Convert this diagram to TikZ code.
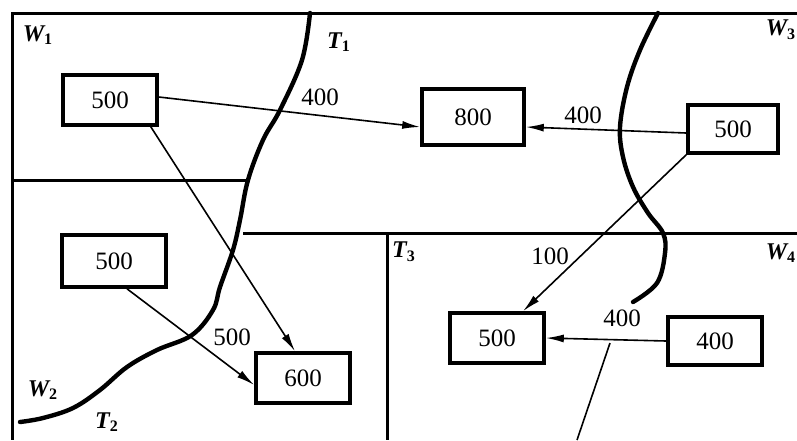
\documentclass[tikz,border=0pt]{standalone}
\usepackage{fontspec}
\setmainfont{Liberation Serif}
\usetikzlibrary{arrows.meta,positioning,calc}

\tikzset{
  kotak/.style={draw, line width=1.8pt, minimum width=47pt, minimum height=25pt, inner sep=0pt, font=\fontsize{12.5}{14}\selectfont},
  aliran/.style={line width=0.8pt, -{Latex[length=9pt,width=4pt]}},
  batas/.style={line width=1.5pt},
  kurva/.style={line width=2.2pt, line cap=round},
  angka/.style={font=\fontsize{12.5}{14}\selectfont},
  wil/.style={font=\fontsize{12}{14}\selectfont\bfseries\itshape}
}
\newcommand{\sbs}[1]{\textsubscript{\upshape #1}}

\begin{document}
\begin{tikzpicture}[x=0.5pt,y=-0.5pt]
    \useasboundingbox (0,0) rectangle (797,440);

    % Batas wilayah
    \draw[batas] (797,13) -- (12,13) -- (12,440);
    \draw[batas] (12,180) -- (248,180);
    \draw[batas] (243,233) -- (797,233);
    \draw[batas] (387,233) -- (387,440);

    % Kurva T1 / T2
    \draw[kurva] plot[smooth, tension=0.6] coordinates {(310,13) (302,60) (280,110) (263,140) (248,180) (240,220) (233,250) (220,287) (213,310) (192,335) (157,350) (127,367) (100,390) (73,408) (43,418) (20,422)};
    % Kurva T3
    \draw[kurva] plot[smooth, tension=0.6] coordinates {(658,13) (640,50) (627,87) (620,127) (623,157) (633,187) (648,213) (663,233) (665,253) (657,283) (633,302)};

    % Titik
    \node[kotak] (a) at (110,100) {500};
    \node[kotak, minimum width=51pt, minimum height=28pt] (b) at (473,117) {800};
    \node[kotak, minimum width=45pt, minimum height=24pt] (c) at (733,129) {500};
    \node[kotak, minimum width=52pt, minimum height=26pt] (d) at (114,261) {500};
    \node[kotak] (e) at (303,378) {600};
    \node[kotak] (f) at (497,338) {500};
    \node[kotak, minimum height=24pt] (g) at (715,341) {400};

    % Aliran
    \draw[aliran] ([yshift=1.5pt]a.east) -- ([yshift=-5pt]b.west);
    \draw[aliran] ([yshift=-2pt]c.west) -- ([yshift=-5pt]b.east);
    \draw[aliran] ([xshift=-4pt]a.south east) -- ([xshift=-4pt]e.north);
    \draw[aliran] ([xshift=6.5pt]d.south) -- ([yshift=-3.5pt]e.west);
    \draw[aliran] (c.south west) -- ([xshift=13pt]f.north);
    \draw[aliran] (g.west) -- (f.east);

    % Garis batas T3/T4
    \coordinate (p) at (610,343);
    \coordinate (q) at (577,440);
    \draw[line width=0.8pt] (p) -- (q);

    % Keterangan
    \node[angka] (l1) at (320,97) {400};
    \node[angka] (l2) at (583,115) {400};
    \node[angka] (l3) at (232,337) {500};
    \node[angka] (l4) at (550,256) {100};
    \node[angka] (l5) at (622,318) {400};

    \node[wil] (w1) at (38,35) {W\sbs{1}};
    \node[wil] (t1) at (339,42) {T\sbs{1}};
    \node[wil] (w3) at (781,30) {W\sbs{3}};
    \node[wil] (t3) at (404,252) {T\sbs{3}};
    \node[wil] (w4) at (781,253) {W\sbs{4}};
    \node[wil] (w2) at (43,390) {W\sbs{2}};
    \node[wil] (t2) at (107,422) {T\sbs{2}};
\end{tikzpicture}
\end{document}
